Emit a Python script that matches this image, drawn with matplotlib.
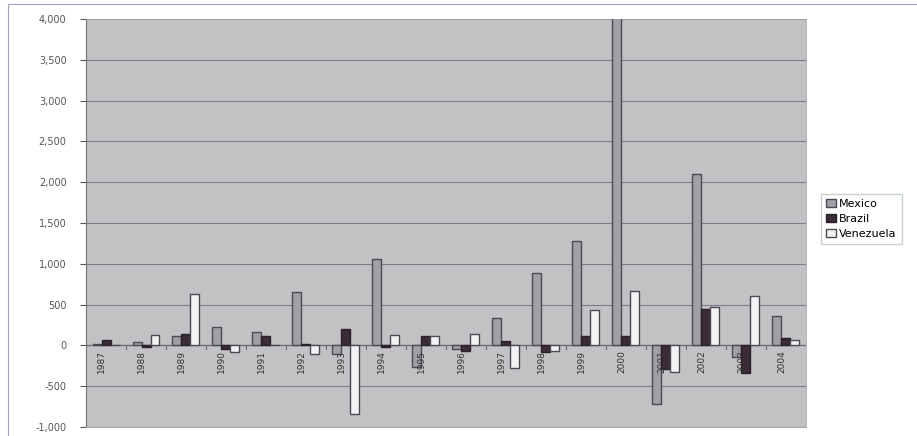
import numpy as np
import matplotlib
matplotlib.use('Agg')
import matplotlib.pyplot as plt
import matplotlib.ticker as ticker
from matplotlib.patches import Rectangle

#DATA
years = [str(y) for y in range(1987, 2005)]
mexico = [20, 45, 120, 230, 165, 660, -110, 1060, -265, -40, 330, 885, 1280, 4100, -715, 2100, -145, 355]
brazil = [70, -15, 140, -40, 115, 15, 195, -15, 115, -70, 50, -85, 115, 120, -295, 450, -340, 85]
venezuela = [5, 125, 625, -75, 5, -110, -840, 130, 115, 145, -275, -70, 430, 665, -330, 470, 610, 70]

#FIGURE
fig = plt.figure(figsize=(9.17, 4.36), dpi=100)
fig.patch.set_facecolor('white')
ax = fig.add_axes([0.0938, 0.0206, 0.785, 0.936])
ax.set_facecolor('#c2c2c5')

x = np.arange(len(years))
w = 0.225
ax.bar(x - w, mexico, w, color='#a0a0a6', edgecolor='#4a4a55', linewidth=1.0, label='Mexico', zorder=3)
ax.bar(x, brazil, w, color='#3b2c38', edgecolor='#2a2028', linewidth=1.0, label='Brazil', zorder=3)
ax.bar(x + w, venezuela, w, color='#f2f2f2', edgecolor='#4a4a55', linewidth=1.0, label='Venezuela', zorder=3)

#AXES
ax.set_xlim(-0.5, len(years) - 0.5)
ax.set_ylim(-1000, 4000)
ax.yaxis.set_major_locator(ticker.MultipleLocator(500))
ax.yaxis.set_major_formatter(ticker.FuncFormatter(lambda v, p: f"{int(v):,}"))
ax.grid(axis='y', color='#7c7c8c', linewidth=0.8, zorder=1)
ax.axhline(0, color='#6a6a78', linewidth=0.9, zorder=2)
# small category tick marks on the zero line
ax.set_xticks(np.arange(len(years) + 1) - 0.5, minor=True)
for b in np.arange(1, len(years)) - 0.5:
    ax.plot([b, b], [0, -40], color='#6a6a78', linewidth=0.8, zorder=2)
ax.set_xticks([])
ax.tick_params(axis='x', which='minor', length=0)
ax.tick_params(axis='y', labelsize=7, colors='#555555', length=4, pad=10)
for s in ['top', 'right']:
    ax.spines[s].set_color('#a8a8b0')
    ax.spines[s].set_linewidth(0.6)
ax.spines['left'].set_color('#707078')
ax.spines['bottom'].set_color('#a8a8b0')

#YEAR LABELS INSIDE THE PLOT
for i, yr in enumerate(years):
    ax.text(i - w / 2, -60, yr, rotation=90, ha='center', va='top',
            fontsize=6.5, color='#333333', zorder=4)

#LEGEND
fig.legend(loc='upper left', bbox_to_anchor=(0.889, 0.568), fontsize=8,
           frameon=True, fancybox=False, edgecolor='#b8c8b8', handlelength=0.9,
           handleheight=0.7, handletextpad=0.3, labelspacing=0.45, borderpad=0.45)

#OUTER FRAME
fig.patches.append(Rectangle((8 / 917, -0.02), 1.0, 1 - 4 / 436 + 0.02, transform=fig.transFigure,
                             fill=False, edgecolor='#9ea4bc', linewidth=0.8))

fig.savefig('out.png', dpi=100)
